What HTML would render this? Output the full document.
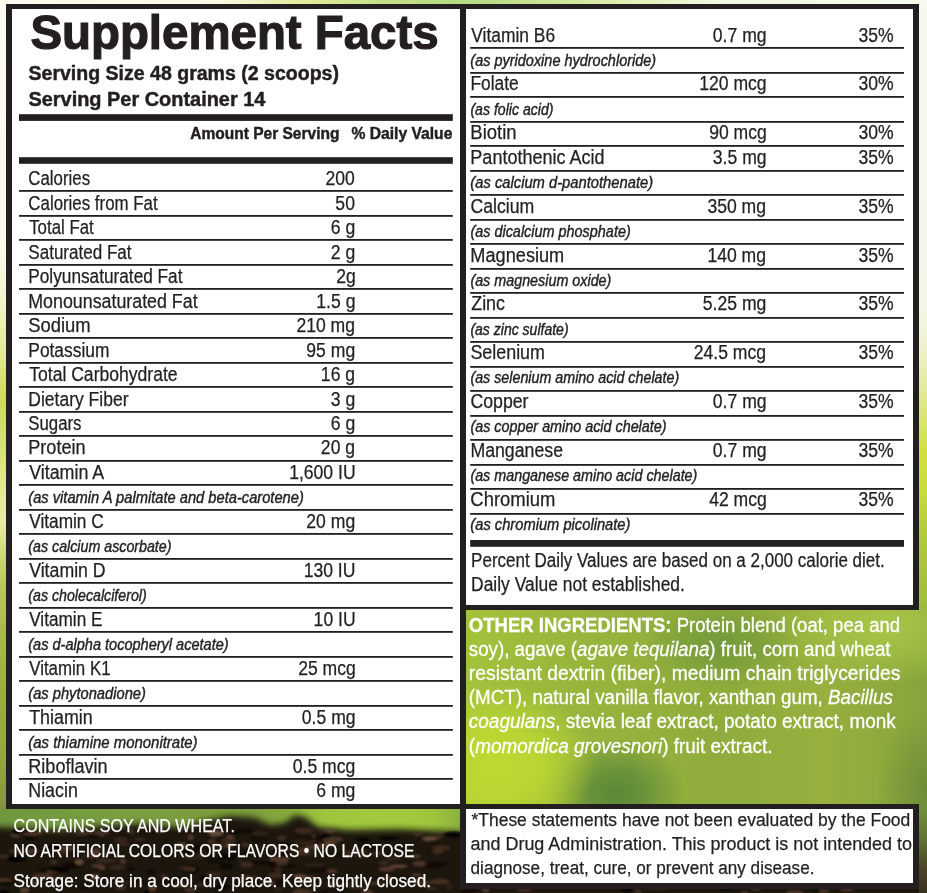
<!DOCTYPE html>
<html><head><meta charset="utf-8"><title>Supplement Facts</title>
<style>
html,body{margin:0;padding:0;}
body{width:927px;height:893px;overflow:hidden;position:relative;background:#f6f8e4;}
.bg{position:absolute;}
#bgbase{left:0;top:0;width:927px;height:893px;background:linear-gradient(to bottom,#fbfcf0 0px,#fafbec 240px,#f2f4cf 300px,#e3ea94 350px,#cddc52 400px,#cfe06a 432px,#dfe77e 470px,#eaeea4 520px,#d2dd7a 548px,#b9c855 585px,#a6b943 640px,#9aae38 700px,#93a83a 760px,#86993c 800px,#7a8d3a 815px,#4b3d2a 830px,#2a1f18 850px,#231a14 893px);}
#bgright{left:919px;top:0;width:8px;height:610px;background:linear-gradient(to bottom,#f4f8ef 0px,#f3f7ea 300px,#eef2cc 350px,#e0e88a 400px,#cfe040 450px,#c8dc3c 490px,#b0c83c 540px,#a0bc3e 610px);}
#bgright2{left:919px;top:800px;width:8px;height:93px;background:linear-gradient(to bottom,rgba(112,144,58,0) 0px,#70903a 10px,#5f7034 40px,#4a4229 70px,#3a3020 93px);}
#bgtop{left:0;top:0;width:927px;height:6px;background:linear-gradient(to right,#fbfcf0 0px,#f8f9e2 220px,#e2ec9c 300px,#c6e08a 380px,#b5db82 450px,#c2e08e 520px,#dfeeb0 620px,#f3f8e2 720px,#f6faee 927px);}
#bging{left:466px;top:605px;width:461px;height:205px;background:
 radial-gradient(ellipse 100px 80px at 30px 160px,#bdd931 0%,rgba(189,217,49,.85) 45%,rgba(189,217,49,0) 100%),
 radial-gradient(ellipse 70px 55px at 150px 188px,#5b8838 0%,rgba(91,136,56,.75) 40%,rgba(91,136,56,0) 100%),
 radial-gradient(ellipse 80px 45px at 255px 40px,#739a3a 0%,rgba(115,154,58,.6) 50%,rgba(115,154,58,0) 100%),
 radial-gradient(ellipse 50px 80px at 461px 185px,rgba(104,134,54,.8) 0%,rgba(104,134,54,0) 100%),
 radial-gradient(ellipse 110px 60px at 420px 20px,#a8c646 0%,rgba(168,198,70,.6) 50%,rgba(168,198,70,0) 100%),
 linear-gradient(to right,#a3c23b 0px,#97b43c 120px,#8fac3c 260px,#97b03e 360px,#86a43c 461px);}
#bgsoil{left:0;top:809px;width:927px;height:84px;background:
 radial-gradient(ellipse 90px 26px at 375px 8px,#a2ca3e 0%,rgba(162,202,62,.7) 55%,rgba(162,202,62,0) 100%),
 linear-gradient(to right,#6f983e 0px,#7a9e40 120px,#7c9c3c 250px,#92ba3c 330px,#9cc43c 420px,#8aae3c 460px,#6a7c34 540px,#5a6a30 927px);}
svg{position:absolute;left:0;top:0;}
</style></head>
<body>
<div class="bg" id="bgbase"></div>
<div class="bg" id="bgright"></div>
<div class="bg" id="bgtop"></div>
<div class="bg" id="bging"></div>
<div class="bg" id="bgsoil"></div>
<div class="bg" id="bgright2"></div>
<svg width="927" height="893" viewBox="0 0 927 893" font-family="'Liberation Sans', Arial, sans-serif" fill="#231f20">
<defs><filter id="sb" x="-5%" y="-20%" width="110%" height="140%"><feGaussianBlur stdDeviation="1.3"/></filter><filter id="sb2" x="-5%" y="-30%" width="110%" height="160%"><feGaussianBlur stdDeviation="3"/></filter><clipPath id="sc"><rect x="0" y="809" width="919" height="84"/></clipPath></defs><g clip-path="url(#sc)"><path d="M-20,930 L-20,827 L0,827 L20,828 L60,830 L100,826 L140,824 L180,827 L205,821 L230,816 L255,818 L270,825 L285,823 L295,815 L305,817 L318,827 L350,830 L400,829 L440,831 L470,833 L560,835 L700,837 L927,841 L950,841 L950,930 Z" fill="#1f1611" filter="url(#sb2)"/><g filter="url(#sb)"><ellipse cx="300.2" cy="839.5" rx="8.2" ry="1.3" fill="#5a3c2c" fill-opacity="0.65"/><ellipse cx="53.8" cy="862.0" rx="3.3" ry="2.1" fill="#5a3c2c" fill-opacity="0.60"/><ellipse cx="524.2" cy="889.7" rx="8.0" ry="2.4" fill="#4a3226" fill-opacity="0.73"/><ellipse cx="367.7" cy="891.5" rx="3.4" ry="2.9" fill="#4f372a" fill-opacity="0.67"/><ellipse cx="95.5" cy="866.0" rx="4.5" ry="1.4" fill="#5a3c2c" fill-opacity="0.73"/><ellipse cx="431.6" cy="888.2" rx="5.9" ry="1.7" fill="#3e2a20" fill-opacity="0.78"/><ellipse cx="226.3" cy="866.2" rx="7.2" ry="3.0" fill="#070403" fill-opacity="0.62"/><ellipse cx="387.6" cy="877.7" rx="4.2" ry="2.2" fill="#4a3226" fill-opacity="0.88"/><ellipse cx="72.0" cy="865.2" rx="9.3" ry="2.8" fill="#0e0806" fill-opacity="0.78"/><ellipse cx="422.9" cy="882.9" rx="10.6" ry="2.1" fill="#5a3c2c" fill-opacity="0.52"/><ellipse cx="920.6" cy="881.8" rx="5.3" ry="2.0" fill="#0e0806" fill-opacity="0.51"/><ellipse cx="428.0" cy="840.6" rx="3.9" ry="1.3" fill="#4f372a" fill-opacity="0.55"/><ellipse cx="229.5" cy="854.6" rx="10.0" ry="1.4" fill="#070403" fill-opacity="0.66"/><ellipse cx="257.6" cy="838.6" rx="6.4" ry="2.3" fill="#0e0806" fill-opacity="0.89"/><ellipse cx="213.9" cy="835.2" rx="4.2" ry="2.5" fill="#4a3226" fill-opacity="0.69"/><ellipse cx="3.8" cy="856.4" rx="6.0" ry="2.3" fill="#3e2a20" fill-opacity="0.78"/><ellipse cx="363.7" cy="855.1" rx="3.8" ry="2.5" fill="#4a3226" fill-opacity="0.58"/><ellipse cx="101.9" cy="867.8" rx="3.8" ry="2.3" fill="#5a3c2c" fill-opacity="0.88"/><ellipse cx="192.8" cy="853.7" rx="8.1" ry="3.1" fill="#0e0806" fill-opacity="0.69"/><ellipse cx="106.9" cy="860.7" rx="10.8" ry="2.2" fill="#4f372a" fill-opacity="0.53"/><ellipse cx="94.7" cy="851.6" rx="5.1" ry="2.9" fill="#3e2a20" fill-opacity="0.71"/><ellipse cx="190.2" cy="890.0" rx="5.9" ry="2.6" fill="#4a3226" fill-opacity="0.80"/><ellipse cx="276.3" cy="870.5" rx="3.7" ry="2.9" fill="#0e0806" fill-opacity="0.86"/><ellipse cx="329.7" cy="844.0" rx="7.3" ry="2.2" fill="#6b4d3a" fill-opacity="0.75"/><ellipse cx="180.9" cy="845.1" rx="6.2" ry="2.8" fill="#6b4d3a" fill-opacity="0.71"/><ellipse cx="329.6" cy="831.8" rx="3.2" ry="1.8" fill="#4f372a" fill-opacity="0.58"/><ellipse cx="324.0" cy="891.4" rx="3.6" ry="1.4" fill="#070403" fill-opacity="0.58"/><ellipse cx="189.5" cy="869.3" rx="10.2" ry="2.9" fill="#070403" fill-opacity="0.86"/><ellipse cx="318.9" cy="870.5" rx="9.7" ry="1.4" fill="#0e0806" fill-opacity="0.81"/><ellipse cx="165.5" cy="879.7" rx="5.7" ry="2.8" fill="#0e0806" fill-opacity="0.69"/><ellipse cx="147.3" cy="892.6" rx="3.2" ry="2.4" fill="#070403" fill-opacity="0.82"/><ellipse cx="135.5" cy="882.1" rx="10.8" ry="2.5" fill="#0e0806" fill-opacity="0.56"/><ellipse cx="95.3" cy="877.2" rx="4.1" ry="3.2" fill="#6b4d3a" fill-opacity="0.83"/><ellipse cx="195.6" cy="845.9" rx="5.3" ry="1.7" fill="#0e0806" fill-opacity="0.60"/><ellipse cx="388.4" cy="838.3" rx="10.3" ry="1.9" fill="#070403" fill-opacity="0.76"/><ellipse cx="121.2" cy="839.6" rx="7.1" ry="2.9" fill="#3e2a20" fill-opacity="0.74"/><ellipse cx="131.2" cy="869.0" rx="4.0" ry="1.3" fill="#070403" fill-opacity="0.81"/><ellipse cx="98.4" cy="865.3" rx="5.0" ry="1.8" fill="#5a3c2c" fill-opacity="0.70"/><ellipse cx="419.3" cy="863.6" rx="6.8" ry="3.1" fill="#4f372a" fill-opacity="0.87"/><ellipse cx="414.9" cy="856.2" rx="6.1" ry="1.8" fill="#6b4d3a" fill-opacity="0.67"/><ellipse cx="197.2" cy="849.1" rx="4.0" ry="2.8" fill="#0e0806" fill-opacity="0.56"/><ellipse cx="818.4" cy="891.0" rx="4.8" ry="3.1" fill="#0e0806" fill-opacity="0.85"/><ellipse cx="150.9" cy="872.1" rx="4.8" ry="2.6" fill="#0e0806" fill-opacity="0.64"/><ellipse cx="181.5" cy="850.1" rx="8.8" ry="1.2" fill="#070403" fill-opacity="0.68"/><ellipse cx="16.8" cy="850.9" rx="8.0" ry="2.2" fill="#5a3c2c" fill-opacity="0.55"/><ellipse cx="252.1" cy="887.1" rx="4.5" ry="2.7" fill="#0e0806" fill-opacity="0.84"/><ellipse cx="626.6" cy="889.6" rx="6.2" ry="2.3" fill="#070403" fill-opacity="0.78"/><ellipse cx="82.9" cy="833.6" rx="8.5" ry="2.1" fill="#5a3c2c" fill-opacity="0.61"/><ellipse cx="15.6" cy="835.6" rx="5.1" ry="2.4" fill="#6b4d3a" fill-opacity="0.53"/><ellipse cx="314.4" cy="864.8" rx="10.4" ry="1.7" fill="#3e2a20" fill-opacity="0.52"/><ellipse cx="657.7" cy="889.1" rx="10.8" ry="1.7" fill="#3e2a20" fill-opacity="0.58"/><ellipse cx="289.2" cy="849.2" rx="9.1" ry="1.8" fill="#3e2a20" fill-opacity="0.61"/><ellipse cx="745.0" cy="892.7" rx="3.3" ry="1.2" fill="#6b4d3a" fill-opacity="0.71"/><ellipse cx="227.7" cy="858.2" rx="8.3" ry="2.5" fill="#070403" fill-opacity="0.72"/><ellipse cx="823.8" cy="891.1" rx="5.5" ry="1.6" fill="#6b4d3a" fill-opacity="0.64"/><ellipse cx="322.2" cy="833.4" rx="4.0" ry="1.3" fill="#4f372a" fill-opacity="0.67"/><ellipse cx="51.4" cy="871.9" rx="6.0" ry="2.2" fill="#4f372a" fill-opacity="0.74"/><ellipse cx="171.8" cy="846.9" rx="3.0" ry="1.9" fill="#0e0806" fill-opacity="0.89"/><ellipse cx="330.6" cy="830.1" rx="6.1" ry="2.1" fill="#6b4d3a" fill-opacity="0.60"/><ellipse cx="277.8" cy="869.7" rx="3.7" ry="3.1" fill="#3e2a20" fill-opacity="0.76"/><ellipse cx="361.1" cy="850.5" rx="10.9" ry="1.5" fill="#3e2a20" fill-opacity="0.52"/><ellipse cx="28.9" cy="838.4" rx="5.9" ry="1.4" fill="#070403" fill-opacity="0.72"/><ellipse cx="3.1" cy="880.3" rx="9.0" ry="2.2" fill="#5a3c2c" fill-opacity="0.76"/><ellipse cx="61.2" cy="876.4" rx="5.0" ry="1.3" fill="#4f372a" fill-opacity="0.59"/><ellipse cx="43.3" cy="869.9" rx="4.6" ry="2.4" fill="#0e0806" fill-opacity="0.60"/><ellipse cx="56.2" cy="846.9" rx="8.4" ry="2.6" fill="#070403" fill-opacity="0.62"/><ellipse cx="432.3" cy="837.5" rx="10.1" ry="1.6" fill="#5a3c2c" fill-opacity="0.87"/><ellipse cx="16.2" cy="858.9" rx="9.6" ry="3.1" fill="#070403" fill-opacity="0.90"/><ellipse cx="358.6" cy="887.7" rx="10.4" ry="1.3" fill="#5a3c2c" fill-opacity="0.56"/><ellipse cx="485.8" cy="890.0" rx="4.1" ry="2.8" fill="#4f372a" fill-opacity="0.85"/><ellipse cx="23.0" cy="830.2" rx="6.9" ry="2.1" fill="#4f372a" fill-opacity="0.79"/><ellipse cx="385.8" cy="853.7" rx="4.0" ry="1.9" fill="#0e0806" fill-opacity="0.80"/><ellipse cx="345.0" cy="854.8" rx="11.0" ry="2.4" fill="#0e0806" fill-opacity="0.87"/><ellipse cx="260.2" cy="833.3" rx="8.3" ry="2.5" fill="#3e2a20" fill-opacity="0.60"/><ellipse cx="246.3" cy="862.2" rx="4.5" ry="1.9" fill="#0e0806" fill-opacity="0.85"/><ellipse cx="846.7" cy="889.3" rx="7.4" ry="2.6" fill="#4a3226" fill-opacity="0.87"/><ellipse cx="380.9" cy="868.7" rx="4.1" ry="2.9" fill="#070403" fill-opacity="0.52"/><ellipse cx="437.7" cy="851.7" rx="5.4" ry="2.7" fill="#4f372a" fill-opacity="0.66"/><ellipse cx="221.2" cy="860.4" rx="8.4" ry="1.4" fill="#3e2a20" fill-opacity="0.53"/><ellipse cx="308.5" cy="877.8" rx="6.4" ry="2.3" fill="#6b4d3a" fill-opacity="0.54"/><ellipse cx="317.0" cy="835.7" rx="4.9" ry="1.7" fill="#6b4d3a" fill-opacity="0.85"/><ellipse cx="383.7" cy="863.0" rx="6.0" ry="1.9" fill="#4a3226" fill-opacity="0.70"/><ellipse cx="85.8" cy="886.5" rx="6.1" ry="2.5" fill="#0e0806" fill-opacity="0.88"/><ellipse cx="20.2" cy="832.0" rx="8.7" ry="3.0" fill="#070403" fill-opacity="0.89"/><ellipse cx="454.1" cy="834.6" rx="10.4" ry="3.1" fill="#070403" fill-opacity="0.89"/><ellipse cx="230.3" cy="836.9" rx="4.2" ry="2.2" fill="#5a3c2c" fill-opacity="0.88"/><ellipse cx="281.6" cy="838.1" rx="5.0" ry="2.5" fill="#5a3c2c" fill-opacity="0.54"/><ellipse cx="278.4" cy="889.4" rx="4.5" ry="1.7" fill="#4a3226" fill-opacity="0.50"/><ellipse cx="279.5" cy="859.0" rx="10.7" ry="2.5" fill="#6b4d3a" fill-opacity="0.69"/><ellipse cx="217.6" cy="845.6" rx="10.7" ry="2.6" fill="#4f372a" fill-opacity="0.52"/><ellipse cx="179.9" cy="885.7" rx="8.2" ry="1.4" fill="#6b4d3a" fill-opacity="0.77"/><ellipse cx="31.6" cy="851.3" rx="6.4" ry="2.6" fill="#6b4d3a" fill-opacity="0.50"/><ellipse cx="270.8" cy="883.2" rx="3.5" ry="2.2" fill="#6b4d3a" fill-opacity="0.62"/><ellipse cx="205.3" cy="877.9" rx="5.4" ry="3.1" fill="#070403" fill-opacity="0.74"/><ellipse cx="50.4" cy="831.5" rx="7.8" ry="2.0" fill="#4a3226" fill-opacity="0.57"/><ellipse cx="416.8" cy="874.9" rx="5.5" ry="1.4" fill="#5a3c2c" fill-opacity="0.87"/><ellipse cx="305.2" cy="841.7" rx="10.5" ry="2.7" fill="#4a3226" fill-opacity="0.62"/><ellipse cx="101.0" cy="834.9" rx="3.6" ry="2.0" fill="#5a3c2c" fill-opacity="0.72"/><ellipse cx="299.7" cy="876.5" rx="6.8" ry="2.5" fill="#6b4d3a" fill-opacity="0.82"/><ellipse cx="32.3" cy="833.9" rx="10.4" ry="1.7" fill="#5a3c2c" fill-opacity="0.86"/><ellipse cx="314.3" cy="847.2" rx="10.7" ry="2.4" fill="#4f372a" fill-opacity="0.80"/><ellipse cx="275.7" cy="875.5" rx="7.8" ry="2.8" fill="#5a3c2c" fill-opacity="0.51"/><ellipse cx="216.8" cy="859.9" rx="10.7" ry="3.1" fill="#0e0806" fill-opacity="0.82"/><ellipse cx="123.0" cy="861.3" rx="3.1" ry="3.1" fill="#4f372a" fill-opacity="0.83"/><ellipse cx="303.9" cy="850.1" rx="5.9" ry="2.8" fill="#5a3c2c" fill-opacity="0.70"/><ellipse cx="363.1" cy="840.1" rx="6.3" ry="2.5" fill="#070403" fill-opacity="0.72"/><ellipse cx="302.0" cy="891.8" rx="10.1" ry="3.2" fill="#4f372a" fill-opacity="0.75"/><ellipse cx="193.1" cy="856.5" rx="10.9" ry="3.1" fill="#3e2a20" fill-opacity="0.59"/><ellipse cx="386.4" cy="869.1" rx="8.4" ry="2.7" fill="#5a3c2c" fill-opacity="0.81"/><ellipse cx="272.5" cy="847.6" rx="5.1" ry="1.7" fill="#4f372a" fill-opacity="0.58"/><ellipse cx="229.4" cy="845.5" rx="4.2" ry="3.0" fill="#6b4d3a" fill-opacity="0.63"/><ellipse cx="367.2" cy="892.5" rx="7.1" ry="1.7" fill="#5a3c2c" fill-opacity="0.76"/><ellipse cx="440.1" cy="881.6" rx="9.7" ry="3.0" fill="#4a3226" fill-opacity="0.85"/><ellipse cx="215.9" cy="833.2" rx="7.8" ry="2.9" fill="#6b4d3a" fill-opacity="0.87"/><ellipse cx="345.1" cy="884.6" rx="6.6" ry="1.7" fill="#4a3226" fill-opacity="0.54"/><ellipse cx="201.8" cy="853.2" rx="4.1" ry="1.6" fill="#4f372a" fill-opacity="0.52"/><ellipse cx="379.1" cy="853.4" rx="8.0" ry="1.4" fill="#4a3226" fill-opacity="0.82"/><ellipse cx="94.0" cy="854.9" rx="7.4" ry="2.5" fill="#5a3c2c" fill-opacity="0.76"/><ellipse cx="368.7" cy="847.1" rx="10.9" ry="2.5" fill="#0e0806" fill-opacity="0.88"/><ellipse cx="289.6" cy="865.7" rx="5.9" ry="2.0" fill="#0e0806" fill-opacity="0.76"/><ellipse cx="362.2" cy="855.5" rx="10.5" ry="2.1" fill="#3e2a20" fill-opacity="0.67"/><ellipse cx="150.7" cy="830.9" rx="7.4" ry="2.5" fill="#0e0806" fill-opacity="0.54"/><ellipse cx="262.6" cy="862.8" rx="10.4" ry="1.4" fill="#070403" fill-opacity="0.80"/><ellipse cx="279.6" cy="882.7" rx="3.3" ry="3.0" fill="#0e0806" fill-opacity="0.52"/><ellipse cx="375.0" cy="883.3" rx="9.6" ry="1.6" fill="#6b4d3a" fill-opacity="0.52"/><ellipse cx="333.0" cy="839.4" rx="10.8" ry="2.8" fill="#6b4d3a" fill-opacity="0.52"/><ellipse cx="35.3" cy="882.8" rx="3.9" ry="2.4" fill="#4f372a" fill-opacity="0.76"/><ellipse cx="285.7" cy="845.7" rx="6.1" ry="1.9" fill="#070403" fill-opacity="0.57"/><ellipse cx="3.3" cy="892.1" rx="6.7" ry="2.1" fill="#070403" fill-opacity="0.83"/><ellipse cx="62.2" cy="852.6" rx="5.9" ry="2.8" fill="#4a3226" fill-opacity="0.52"/><ellipse cx="120.8" cy="888.1" rx="5.5" ry="2.6" fill="#5a3c2c" fill-opacity="0.52"/><ellipse cx="794.5" cy="892.8" rx="8.9" ry="2.8" fill="#6b4d3a" fill-opacity="0.55"/><ellipse cx="205.0" cy="882.5" rx="7.9" ry="1.7" fill="#0e0806" fill-opacity="0.86"/><ellipse cx="254.9" cy="881.4" rx="4.1" ry="2.2" fill="#070403" fill-opacity="0.58"/><ellipse cx="243.7" cy="861.9" rx="5.6" ry="1.3" fill="#3e2a20" fill-opacity="0.66"/><ellipse cx="303.9" cy="853.7" rx="9.3" ry="1.7" fill="#4a3226" fill-opacity="0.75"/><ellipse cx="333.5" cy="885.0" rx="7.4" ry="2.4" fill="#5a3c2c" fill-opacity="0.60"/><ellipse cx="348.3" cy="853.2" rx="4.2" ry="1.9" fill="#5a3c2c" fill-opacity="0.68"/><ellipse cx="163.9" cy="876.8" rx="3.4" ry="2.8" fill="#4f372a" fill-opacity="0.62"/><ellipse cx="205.5" cy="848.3" rx="8.0" ry="2.0" fill="#0e0806" fill-opacity="0.86"/><ellipse cx="122.4" cy="844.3" rx="8.2" ry="1.2" fill="#4a3226" fill-opacity="0.73"/><ellipse cx="281.6" cy="863.0" rx="7.3" ry="2.0" fill="#4f372a" fill-opacity="0.74"/><ellipse cx="189.3" cy="869.3" rx="6.8" ry="1.5" fill="#6b4d3a" fill-opacity="0.78"/><ellipse cx="417.9" cy="834.0" rx="4.2" ry="2.5" fill="#4f372a" fill-opacity="0.66"/><ellipse cx="245.0" cy="830.7" rx="8.2" ry="2.3" fill="#0e0806" fill-opacity="0.74"/><ellipse cx="153.0" cy="830.0" rx="3.5" ry="1.3" fill="#3e2a20" fill-opacity="0.60"/><ellipse cx="54.1" cy="879.1" rx="3.1" ry="2.3" fill="#6b4d3a" fill-opacity="0.56"/><ellipse cx="185.0" cy="868.3" rx="7.1" ry="2.5" fill="#3e2a20" fill-opacity="0.70"/><ellipse cx="59.1" cy="869.4" rx="11.0" ry="2.6" fill="#070403" fill-opacity="0.79"/><ellipse cx="5.9" cy="883.2" rx="9.0" ry="2.1" fill="#070403" fill-opacity="0.57"/><ellipse cx="923.9" cy="846.5" rx="8.2" ry="1.4" fill="#4f372a" fill-opacity="0.78"/><ellipse cx="246.6" cy="864.9" rx="6.5" ry="2.8" fill="#4f372a" fill-opacity="0.62"/><ellipse cx="79.2" cy="862.0" rx="4.4" ry="3.0" fill="#6b4d3a" fill-opacity="0.88"/><ellipse cx="221.7" cy="887.2" rx="8.0" ry="2.6" fill="#070403" fill-opacity="0.69"/><ellipse cx="24.6" cy="890.2" rx="4.9" ry="3.0" fill="#6b4d3a" fill-opacity="0.66"/><ellipse cx="159.0" cy="832.1" rx="3.9" ry="2.4" fill="#3e2a20" fill-opacity="0.64"/><ellipse cx="131.5" cy="831.8" rx="3.3" ry="2.6" fill="#4a3226" fill-opacity="0.78"/><ellipse cx="190.7" cy="837.1" rx="3.3" ry="2.9" fill="#5a3c2c" fill-opacity="0.83"/><ellipse cx="92.6" cy="836.2" rx="9.1" ry="1.6" fill="#0e0806" fill-opacity="0.63"/><ellipse cx="242.1" cy="852.1" rx="10.4" ry="1.3" fill="#0e0806" fill-opacity="0.86"/><ellipse cx="441.3" cy="848.1" rx="9.0" ry="2.8" fill="#4a3226" fill-opacity="0.67"/><ellipse cx="200.8" cy="884.3" rx="3.7" ry="2.8" fill="#3e2a20" fill-opacity="0.67"/><ellipse cx="322.4" cy="836.0" rx="8.6" ry="2.9" fill="#070403" fill-opacity="0.74"/><ellipse cx="755.7" cy="889.1" rx="4.9" ry="1.5" fill="#5a3c2c" fill-opacity="0.70"/><ellipse cx="96.9" cy="850.6" rx="3.8" ry="3.1" fill="#5a3c2c" fill-opacity="0.67"/><ellipse cx="281.0" cy="857.0" rx="7.4" ry="1.5" fill="#6b4d3a" fill-opacity="0.88"/><ellipse cx="117.6" cy="867.4" rx="8.5" ry="2.4" fill="#4a3226" fill-opacity="0.64"/><ellipse cx="302.8" cy="839.8" rx="9.7" ry="2.5" fill="#0e0806" fill-opacity="0.57"/><ellipse cx="406.8" cy="878.7" rx="7.6" ry="1.5" fill="#070403" fill-opacity="0.76"/><ellipse cx="248.0" cy="877.5" rx="9.6" ry="2.4" fill="#3e2a20" fill-opacity="0.89"/><ellipse cx="323.2" cy="844.9" rx="10.6" ry="1.7" fill="#5a3c2c" fill-opacity="0.57"/><ellipse cx="139.9" cy="839.3" rx="5.4" ry="1.8" fill="#4f372a" fill-opacity="0.58"/><ellipse cx="191.4" cy="854.5" rx="3.3" ry="2.0" fill="#0e0806" fill-opacity="0.78"/><ellipse cx="429.5" cy="838.9" rx="7.8" ry="2.0" fill="#6b4d3a" fill-opacity="0.86"/><ellipse cx="398.6" cy="866.2" rx="9.0" ry="2.0" fill="#6b4d3a" fill-opacity="0.77"/><ellipse cx="211.9" cy="841.4" rx="4.0" ry="2.1" fill="#4f372a" fill-opacity="0.75"/><ellipse cx="90.7" cy="856.4" rx="9.3" ry="2.6" fill="#3e2a20" fill-opacity="0.60"/><ellipse cx="392.7" cy="858.7" rx="8.0" ry="2.0" fill="#3e2a20" fill-opacity="0.86"/><ellipse cx="304.1" cy="830.7" rx="9.7" ry="3.0" fill="#5a3c2c" fill-opacity="0.52"/><ellipse cx="724.7" cy="889.3" rx="7.2" ry="1.4" fill="#070403" fill-opacity="0.72"/><ellipse cx="52.5" cy="847.3" rx="6.2" ry="1.2" fill="#0e0806" fill-opacity="0.87"/><ellipse cx="281.3" cy="855.2" rx="10.6" ry="3.1" fill="#0e0806" fill-opacity="0.68"/><ellipse cx="152.5" cy="888.6" rx="3.6" ry="2.8" fill="#6b4d3a" fill-opacity="0.69"/><ellipse cx="272.9" cy="864.5" rx="4.0" ry="2.9" fill="#0e0806" fill-opacity="0.81"/><ellipse cx="213.6" cy="874.4" rx="8.5" ry="3.2" fill="#3e2a20" fill-opacity="0.69"/><ellipse cx="331.8" cy="871.2" rx="5.6" ry="2.2" fill="#5a3c2c" fill-opacity="0.76"/><ellipse cx="336.0" cy="888.5" rx="9.8" ry="1.3" fill="#0e0806" fill-opacity="0.81"/><ellipse cx="130.2" cy="882.4" rx="8.1" ry="1.2" fill="#4a3226" fill-opacity="0.58"/><ellipse cx="66.7" cy="848.5" rx="7.9" ry="2.4" fill="#6b4d3a" fill-opacity="0.57"/><ellipse cx="419.0" cy="879.4" rx="4.7" ry="2.0" fill="#3e2a20" fill-opacity="0.74"/><ellipse cx="637.8" cy="891.6" rx="3.7" ry="3.0" fill="#4f372a" fill-opacity="0.58"/><ellipse cx="245.2" cy="844.8" rx="4.1" ry="2.2" fill="#4a3226" fill-opacity="0.69"/><ellipse cx="228.6" cy="840.4" rx="7.8" ry="2.7" fill="#3e2a20" fill-opacity="0.84"/><ellipse cx="433.8" cy="865.4" rx="8.3" ry="2.9" fill="#0e0806" fill-opacity="0.67"/><ellipse cx="927.0" cy="872.6" rx="4.4" ry="1.9" fill="#4a3226" fill-opacity="0.51"/><ellipse cx="42.5" cy="876.4" rx="11.0" ry="2.8" fill="#5a3c2c" fill-opacity="0.70"/><ellipse cx="449.3" cy="886.5" rx="3.3" ry="2.6" fill="#3e2a20" fill-opacity="0.64"/><ellipse cx="439.9" cy="863.1" rx="9.2" ry="1.6" fill="#0e0806" fill-opacity="0.64"/><ellipse cx="233.2" cy="833.3" rx="5.3" ry="1.9" fill="#070403" fill-opacity="0.66"/><ellipse cx="469.5" cy="891.4" rx="8.2" ry="2.8" fill="#0e0806" fill-opacity="0.58"/><ellipse cx="923.8" cy="855.1" rx="7.4" ry="2.0" fill="#4a3226" fill-opacity="0.66"/><ellipse cx="100.6" cy="832.9" rx="9.6" ry="2.2" fill="#4a3226" fill-opacity="0.82"/></g></g>
<rect x="6" y="4" width="460" height="805" fill="#231f20"/>
<rect x="460" y="4" width="459" height="606" fill="#231f20"/>
<rect x="460" y="610" width="6" height="194" fill="#231f20"/>
<rect x="460" y="804" width="459" height="85" fill="#231f20"/>
<rect x="12" y="9" width="448" height="795" fill="#fff"/>
<rect x="466" y="9" width="447" height="596" fill="#fff"/>
<rect x="466" y="809" width="447" height="74" fill="#fff"/>
<rect x="19" y="114.2" width="433.8" height="6.7" fill="#231f20"/>
<rect x="19" y="157.2" width="433.8" height="6.6" fill="#231f20"/>
<rect x="19" y="190" width="433.8" height="1.8" fill="#231f20"/>
<rect x="19" y="215" width="433.8" height="1.8" fill="#231f20"/>
<rect x="19" y="239" width="433.8" height="1.8" fill="#231f20"/>
<rect x="19" y="264" width="433.8" height="1.8" fill="#231f20"/>
<rect x="19" y="288" width="433.8" height="1.8" fill="#231f20"/>
<rect x="19" y="313" width="433.8" height="1.8" fill="#231f20"/>
<rect x="19" y="337" width="433.8" height="1.8" fill="#231f20"/>
<rect x="19" y="362" width="433.8" height="1.8" fill="#231f20"/>
<rect x="19" y="386" width="433.8" height="1.8" fill="#231f20"/>
<rect x="19" y="411" width="433.8" height="1.8" fill="#231f20"/>
<rect x="19" y="435" width="433.8" height="1.8" fill="#231f20"/>
<rect x="19" y="460" width="433.8" height="1.8" fill="#231f20"/>
<rect x="19" y="484" width="433.8" height="1.8" fill="#231f20"/>
<rect x="19" y="509" width="433.8" height="1.8" fill="#231f20"/>
<rect x="19" y="533" width="433.8" height="1.8" fill="#231f20"/>
<rect x="19" y="558" width="433.8" height="1.8" fill="#231f20"/>
<rect x="19" y="582" width="433.8" height="1.8" fill="#231f20"/>
<rect x="19" y="607" width="433.8" height="1.8" fill="#231f20"/>
<rect x="19" y="631" width="433.8" height="1.8" fill="#231f20"/>
<rect x="19" y="656" width="433.8" height="1.8" fill="#231f20"/>
<rect x="19" y="680" width="433.8" height="1.8" fill="#231f20"/>
<rect x="19" y="705" width="433.8" height="1.8" fill="#231f20"/>
<rect x="19" y="729" width="433.8" height="1.8" fill="#231f20"/>
<rect x="19" y="754" width="433.8" height="1.8" fill="#231f20"/>
<rect x="19" y="778" width="433.8" height="1.8" fill="#231f20"/>
<rect x="470.2" y="47" width="433.8" height="1.8" fill="#231f20"/>
<rect x="470.2" y="72" width="433.8" height="1.8" fill="#231f20"/>
<rect x="470.2" y="96" width="433.8" height="1.8" fill="#231f20"/>
<rect x="470.2" y="121" width="433.8" height="1.8" fill="#231f20"/>
<rect x="470.2" y="145" width="433.8" height="1.8" fill="#231f20"/>
<rect x="470.2" y="170" width="433.8" height="1.8" fill="#231f20"/>
<rect x="470.2" y="194" width="433.8" height="1.8" fill="#231f20"/>
<rect x="470.2" y="219" width="433.8" height="1.8" fill="#231f20"/>
<rect x="470.2" y="243" width="433.8" height="1.8" fill="#231f20"/>
<rect x="470.2" y="268" width="433.8" height="1.8" fill="#231f20"/>
<rect x="470.2" y="292" width="433.8" height="1.8" fill="#231f20"/>
<rect x="470.2" y="317" width="433.8" height="1.8" fill="#231f20"/>
<rect x="470.2" y="341" width="433.8" height="1.8" fill="#231f20"/>
<rect x="470.2" y="366" width="433.8" height="1.8" fill="#231f20"/>
<rect x="470.2" y="390" width="433.8" height="1.8" fill="#231f20"/>
<rect x="470.2" y="415" width="433.8" height="1.8" fill="#231f20"/>
<rect x="470.2" y="439" width="433.8" height="1.8" fill="#231f20"/>
<rect x="470.2" y="464" width="433.8" height="1.8" fill="#231f20"/>
<rect x="470.2" y="488" width="433.8" height="1.8" fill="#231f20"/>
<rect x="470.2" y="513" width="433.8" height="1.8" fill="#231f20"/>
<rect x="470.2" y="540" width="433.8" height="6.8" fill="#231f20"/>
<text x="30.41" y="48.50" font-size="48" textLength="408.19" lengthAdjust="spacingAndGlyphs" stroke="#231f20" stroke-width="1.2"><tspan font-weight="bold">Supplement Facts</tspan></text>
<text x="28.50" y="79.50" font-size="19.5" textLength="310.46" lengthAdjust="spacingAndGlyphs" stroke="#231f20" stroke-width="0.45"><tspan font-weight="bold">Serving Size 48 grams (2 scoops)</tspan></text>
<text x="28.48" y="105.70" font-size="19.5" textLength="236.94" lengthAdjust="spacingAndGlyphs" stroke="#231f20" stroke-width="0.45"><tspan font-weight="bold">Serving Per Container 14</tspan></text>
<text x="190.20" y="138.90" font-size="16.2" textLength="149.28" lengthAdjust="spacingAndGlyphs" stroke="#231f20" stroke-width="0.45"><tspan font-weight="bold">Amount Per Serving</tspan></text>
<text x="351.40" y="138.90" font-size="16.2" textLength="100.96" lengthAdjust="spacingAndGlyphs" stroke="#231f20" stroke-width="0.45"><tspan font-weight="bold">% Daily Value</tspan></text>
<text x="28.33" y="185.30" font-size="19.4" textLength="61.78" lengthAdjust="spacingAndGlyphs" stroke="#231f20" stroke-width="0.25">Calories</text>
<text x="325.39" y="185.30" font-size="19.4" textLength="29.34" lengthAdjust="spacingAndGlyphs" stroke="#231f20" stroke-width="0.25">200</text>
<text x="28.33" y="209.77" font-size="19.4" textLength="129.31" lengthAdjust="spacingAndGlyphs" stroke="#231f20" stroke-width="0.25">Calories from Fat</text>
<text x="335.36" y="209.77" font-size="19.4" textLength="19.56" lengthAdjust="spacingAndGlyphs" stroke="#231f20" stroke-width="0.25">50</text>
<text x="29.20" y="234.24" font-size="19.4" textLength="64.53" lengthAdjust="spacingAndGlyphs" stroke="#231f20" stroke-width="0.25">Total Fat</text>
<text x="330.83" y="234.24" font-size="19.4" textLength="24.45" lengthAdjust="spacingAndGlyphs" stroke="#231f20" stroke-width="0.25">6 g</text>
<text x="28.32" y="258.71" font-size="19.4" textLength="103.22" lengthAdjust="spacingAndGlyphs" stroke="#231f20" stroke-width="0.25">Saturated Fat</text>
<text x="330.83" y="258.71" font-size="19.4" textLength="24.45" lengthAdjust="spacingAndGlyphs" stroke="#231f20" stroke-width="0.25">2 g</text>
<text x="28.31" y="283.18" font-size="19.4" textLength="154.19" lengthAdjust="spacingAndGlyphs" stroke="#231f20" stroke-width="0.25">Polyunsaturated Fat</text>
<text x="336.27" y="283.18" font-size="19.4" textLength="19.56" lengthAdjust="spacingAndGlyphs" stroke="#231f20" stroke-width="0.25">2g</text>
<text x="28.28" y="307.65" font-size="19.4" textLength="169.32" lengthAdjust="spacingAndGlyphs" stroke="#231f20" stroke-width="0.25">Monounsaturated Fat</text>
<text x="316.32" y="307.65" font-size="19.4" textLength="39.11" lengthAdjust="spacingAndGlyphs" stroke="#231f20" stroke-width="0.25">1.5 g</text>
<text x="28.25" y="332.12" font-size="19.4" textLength="62.41" lengthAdjust="spacingAndGlyphs" stroke="#231f20" stroke-width="0.25">Sodium</text>
<text x="296.38" y="332.12" font-size="19.4" textLength="58.64" lengthAdjust="spacingAndGlyphs" stroke="#231f20" stroke-width="0.25">210 mg</text>
<text x="28.30" y="356.59" font-size="19.4" textLength="81.07" lengthAdjust="spacingAndGlyphs" stroke="#231f20" stroke-width="0.25">Potassium</text>
<text x="306.35" y="356.59" font-size="19.4" textLength="48.87" lengthAdjust="spacingAndGlyphs" stroke="#231f20" stroke-width="0.25">95 mg</text>
<text x="29.20" y="381.06" font-size="19.4" textLength="148.46" lengthAdjust="spacingAndGlyphs" stroke="#231f20" stroke-width="0.25">Total Carbohydrate</text>
<text x="320.86" y="381.06" font-size="19.4" textLength="34.22" lengthAdjust="spacingAndGlyphs" stroke="#231f20" stroke-width="0.25">16 g</text>
<text x="28.30" y="405.53" font-size="19.4" textLength="100.20" lengthAdjust="spacingAndGlyphs" stroke="#231f20" stroke-width="0.25">Dietary Fiber</text>
<text x="330.83" y="405.53" font-size="19.4" textLength="24.45" lengthAdjust="spacingAndGlyphs" stroke="#231f20" stroke-width="0.25">3 g</text>
<text x="28.34" y="430.00" font-size="19.4" textLength="53.16" lengthAdjust="spacingAndGlyphs" stroke="#231f20" stroke-width="0.25">Sugars</text>
<text x="330.83" y="430.00" font-size="19.4" textLength="24.45" lengthAdjust="spacingAndGlyphs" stroke="#231f20" stroke-width="0.25">6 g</text>
<text x="28.27" y="454.47" font-size="19.4" textLength="57.39" lengthAdjust="spacingAndGlyphs" stroke="#231f20" stroke-width="0.25">Protein</text>
<text x="320.86" y="454.47" font-size="19.4" textLength="34.22" lengthAdjust="spacingAndGlyphs" stroke="#231f20" stroke-width="0.25">20 g</text>
<text x="29.20" y="478.94" font-size="19.4" textLength="75.02" lengthAdjust="spacingAndGlyphs" stroke="#231f20" stroke-width="0.25">Vitamin A</text>
<text x="289.13" y="478.94" font-size="19.4" textLength="66.46" lengthAdjust="spacingAndGlyphs" stroke="#231f20" stroke-width="0.25">1,600 IU</text>
<text x="28.26" y="503.01" font-size="15.6" textLength="275.57" lengthAdjust="spacingAndGlyphs" stroke="#231f20" stroke-width="0.4"><tspan font-style="italic">(as vitamin A palmitate and beta-carotene)</tspan></text>
<text x="29.20" y="527.88" font-size="19.4" textLength="74.53" lengthAdjust="spacingAndGlyphs" stroke="#231f20" stroke-width="0.25">Vitamin C</text>
<text x="306.35" y="527.88" font-size="19.4" textLength="48.87" lengthAdjust="spacingAndGlyphs" stroke="#231f20" stroke-width="0.25">20 mg</text>
<text x="28.29" y="551.95" font-size="15.6" textLength="143.20" lengthAdjust="spacingAndGlyphs" stroke="#231f20" stroke-width="0.4"><tspan font-style="italic">(as calcium ascorbate)</tspan></text>
<text x="29.20" y="576.82" font-size="19.4" textLength="76.44" lengthAdjust="spacingAndGlyphs" stroke="#231f20" stroke-width="0.25">Vitamin D</text>
<text x="303.63" y="576.82" font-size="19.4" textLength="51.80" lengthAdjust="spacingAndGlyphs" stroke="#231f20" stroke-width="0.25">130 IU</text>
<text x="28.29" y="600.89" font-size="15.6" textLength="118.42" lengthAdjust="spacingAndGlyphs" stroke="#231f20" stroke-width="0.4"><tspan font-style="italic">(as cholecalciferol)</tspan></text>
<text x="29.20" y="625.76" font-size="19.4" textLength="73.27" lengthAdjust="spacingAndGlyphs" stroke="#231f20" stroke-width="0.25">Vitamin E</text>
<text x="313.61" y="625.76" font-size="19.4" textLength="42.03" lengthAdjust="spacingAndGlyphs" stroke="#231f20" stroke-width="0.25">10 IU</text>
<text x="28.27" y="649.83" font-size="15.6" textLength="200.35" lengthAdjust="spacingAndGlyphs" stroke="#231f20" stroke-width="0.4"><tspan font-style="italic">(as d-alpha tocopheryl acetate)</tspan></text>
<text x="29.20" y="674.70" font-size="19.4" textLength="81.37" lengthAdjust="spacingAndGlyphs" stroke="#231f20" stroke-width="0.25">Vitamin K1</text>
<text x="298.19" y="674.70" font-size="19.4" textLength="57.65" lengthAdjust="spacingAndGlyphs" stroke="#231f20" stroke-width="0.25">25 mcg</text>
<text x="28.26" y="698.77" font-size="15.6" textLength="117.64" lengthAdjust="spacingAndGlyphs" stroke="#231f20" stroke-width="0.4"><tspan font-style="italic">(as phytonadione)</tspan></text>
<text x="29.20" y="723.64" font-size="19.4" textLength="63.59" lengthAdjust="spacingAndGlyphs" stroke="#231f20" stroke-width="0.25">Thiamin</text>
<text x="301.82" y="723.64" font-size="19.4" textLength="53.74" lengthAdjust="spacingAndGlyphs" stroke="#231f20" stroke-width="0.25">0.5 mg</text>
<text x="28.24" y="747.71" font-size="15.6" textLength="169.34" lengthAdjust="spacingAndGlyphs" stroke="#231f20" stroke-width="0.4"><tspan font-style="italic">(as thiamine mononitrate)</tspan></text>
<text x="28.27" y="772.58" font-size="19.4" textLength="79.41" lengthAdjust="spacingAndGlyphs" stroke="#231f20" stroke-width="0.25">Riboflavin</text>
<text x="292.75" y="772.58" font-size="19.4" textLength="62.54" lengthAdjust="spacingAndGlyphs" stroke="#231f20" stroke-width="0.25">0.5 mcg</text>
<text x="28.28" y="797.05" font-size="19.4" textLength="49.54" lengthAdjust="spacingAndGlyphs" stroke="#231f20" stroke-width="0.25">Niacin</text>
<text x="316.32" y="797.05" font-size="19.4" textLength="39.08" lengthAdjust="spacingAndGlyphs" stroke="#231f20" stroke-width="0.25">6 mg</text>
<text x="471.30" y="41.60" font-size="19.4" textLength="83.88" lengthAdjust="spacingAndGlyphs" stroke="#231f20" stroke-width="0.25">Vitamin B6</text>
<text x="712.82" y="41.60" font-size="19.4" textLength="53.74" lengthAdjust="spacingAndGlyphs" stroke="#231f20" stroke-width="0.25">0.7 mg</text>
<text x="858.45" y="41.60" font-size="19.4" textLength="35.19" lengthAdjust="spacingAndGlyphs" stroke="#231f20" stroke-width="0.25">35%</text>
<text x="470.37" y="65.74" font-size="15.6" textLength="185.76" lengthAdjust="spacingAndGlyphs" stroke="#231f20" stroke-width="0.4"><tspan font-style="italic">(as pyridoxine hydrochloride)</tspan></text>
<text x="470.41" y="90.48" font-size="19.4" textLength="48.20" lengthAdjust="spacingAndGlyphs" stroke="#231f20" stroke-width="0.25">Folate</text>
<text x="699.22" y="90.48" font-size="19.4" textLength="67.42" lengthAdjust="spacingAndGlyphs" stroke="#231f20" stroke-width="0.25">120 mcg</text>
<text x="858.45" y="90.48" font-size="19.4" textLength="35.19" lengthAdjust="spacingAndGlyphs" stroke="#231f20" stroke-width="0.25">30%</text>
<text x="470.40" y="114.62" font-size="15.6" textLength="83.08" lengthAdjust="spacingAndGlyphs" stroke="#231f20" stroke-width="0.4"><tspan font-style="italic">(as folic acid)</tspan></text>
<text x="470.35" y="139.36" font-size="19.4" textLength="46.30" lengthAdjust="spacingAndGlyphs" stroke="#231f20" stroke-width="0.25">Biotin</text>
<text x="709.19" y="139.36" font-size="19.4" textLength="57.65" lengthAdjust="spacingAndGlyphs" stroke="#231f20" stroke-width="0.25">90 mcg</text>
<text x="858.45" y="139.36" font-size="19.4" textLength="35.19" lengthAdjust="spacingAndGlyphs" stroke="#231f20" stroke-width="0.25">30%</text>
<text x="470.37" y="163.80" font-size="19.4" textLength="134.19" lengthAdjust="spacingAndGlyphs" stroke="#231f20" stroke-width="0.25">Pantothenic Acid</text>
<text x="712.82" y="163.80" font-size="19.4" textLength="53.74" lengthAdjust="spacingAndGlyphs" stroke="#231f20" stroke-width="0.25">3.5 mg</text>
<text x="858.45" y="163.80" font-size="19.4" textLength="35.19" lengthAdjust="spacingAndGlyphs" stroke="#231f20" stroke-width="0.25">35%</text>
<text x="470.35" y="187.94" font-size="15.6" textLength="182.77" lengthAdjust="spacingAndGlyphs" stroke="#231f20" stroke-width="0.4"><tspan font-style="italic">(as calcium d-pantothenate)</tspan></text>
<text x="470.39" y="212.68" font-size="19.4" textLength="63.87" lengthAdjust="spacingAndGlyphs" stroke="#231f20" stroke-width="0.25">Calcium</text>
<text x="707.38" y="212.68" font-size="19.4" textLength="58.64" lengthAdjust="spacingAndGlyphs" stroke="#231f20" stroke-width="0.25">350 mg</text>
<text x="858.45" y="212.68" font-size="19.4" textLength="35.19" lengthAdjust="spacingAndGlyphs" stroke="#231f20" stroke-width="0.25">35%</text>
<text x="470.38" y="236.82" font-size="15.6" textLength="160.36" lengthAdjust="spacingAndGlyphs" stroke="#231f20" stroke-width="0.4"><tspan font-style="italic">(as dicalcium phosphate)</tspan></text>
<text x="470.36" y="261.56" font-size="19.4" textLength="93.89" lengthAdjust="spacingAndGlyphs" stroke="#231f20" stroke-width="0.25">Magnesium</text>
<text x="707.38" y="261.56" font-size="19.4" textLength="58.64" lengthAdjust="spacingAndGlyphs" stroke="#231f20" stroke-width="0.25">140 mg</text>
<text x="858.45" y="261.56" font-size="19.4" textLength="35.19" lengthAdjust="spacingAndGlyphs" stroke="#231f20" stroke-width="0.25">35%</text>
<text x="470.38" y="285.70" font-size="15.6" textLength="140.99" lengthAdjust="spacingAndGlyphs" stroke="#231f20" stroke-width="0.4"><tspan font-style="italic">(as magnesium oxide)</tspan></text>
<text x="471.30" y="310.44" font-size="19.4" textLength="33.59" lengthAdjust="spacingAndGlyphs" stroke="#231f20" stroke-width="0.25">Zinc</text>
<text x="702.85" y="310.44" font-size="19.4" textLength="63.53" lengthAdjust="spacingAndGlyphs" stroke="#231f20" stroke-width="0.25">5.25 mg</text>
<text x="858.45" y="310.44" font-size="19.4" textLength="35.19" lengthAdjust="spacingAndGlyphs" stroke="#231f20" stroke-width="0.25">35%</text>
<text x="470.40" y="334.58" font-size="15.6" textLength="98.18" lengthAdjust="spacingAndGlyphs" stroke="#231f20" stroke-width="0.4"><tspan font-style="italic">(as zinc sulfate)</tspan></text>
<text x="470.38" y="359.32" font-size="19.4" textLength="74.60" lengthAdjust="spacingAndGlyphs" stroke="#231f20" stroke-width="0.25">Selenium</text>
<text x="693.78" y="359.32" font-size="19.4" textLength="72.31" lengthAdjust="spacingAndGlyphs" stroke="#231f20" stroke-width="0.25">24.5 mcg</text>
<text x="858.45" y="359.32" font-size="19.4" textLength="35.19" lengthAdjust="spacingAndGlyphs" stroke="#231f20" stroke-width="0.25">35%</text>
<text x="470.38" y="383.46" font-size="15.6" textLength="208.79" lengthAdjust="spacingAndGlyphs" stroke="#231f20" stroke-width="0.4"><tspan font-style="italic">(as selenium amino acid chelate)</tspan></text>
<text x="470.39" y="408.20" font-size="19.4" textLength="58.16" lengthAdjust="spacingAndGlyphs" stroke="#231f20" stroke-width="0.25">Copper</text>
<text x="712.82" y="408.20" font-size="19.4" textLength="53.74" lengthAdjust="spacingAndGlyphs" stroke="#231f20" stroke-width="0.25">0.7 mg</text>
<text x="858.45" y="408.20" font-size="19.4" textLength="35.19" lengthAdjust="spacingAndGlyphs" stroke="#231f20" stroke-width="0.25">35%</text>
<text x="470.38" y="432.34" font-size="15.6" textLength="196.16" lengthAdjust="spacingAndGlyphs" stroke="#231f20" stroke-width="0.4"><tspan font-style="italic">(as copper amino acid chelate)</tspan></text>
<text x="470.39" y="457.08" font-size="19.4" textLength="92.64" lengthAdjust="spacingAndGlyphs" stroke="#231f20" stroke-width="0.25">Manganese</text>
<text x="712.82" y="457.08" font-size="19.4" textLength="53.74" lengthAdjust="spacingAndGlyphs" stroke="#231f20" stroke-width="0.25">0.7 mg</text>
<text x="858.45" y="457.08" font-size="19.4" textLength="35.19" lengthAdjust="spacingAndGlyphs" stroke="#231f20" stroke-width="0.25">35%</text>
<text x="470.38" y="481.22" font-size="15.6" textLength="226.98" lengthAdjust="spacingAndGlyphs" stroke="#231f20" stroke-width="0.4"><tspan font-style="italic">(as manganese amino acid chelate)</tspan></text>
<text x="470.35" y="505.96" font-size="19.4" textLength="85.02" lengthAdjust="spacingAndGlyphs" stroke="#231f20" stroke-width="0.25">Chromium</text>
<text x="709.19" y="505.96" font-size="19.4" textLength="57.65" lengthAdjust="spacingAndGlyphs" stroke="#231f20" stroke-width="0.25">42 mcg</text>
<text x="858.45" y="505.96" font-size="19.4" textLength="35.19" lengthAdjust="spacingAndGlyphs" stroke="#231f20" stroke-width="0.25">35%</text>
<text x="470.36" y="530.10" font-size="15.6" textLength="160.05" lengthAdjust="spacingAndGlyphs" stroke="#231f20" stroke-width="0.4"><tspan font-style="italic">(as chromium picolinate)</tspan></text>
<text x="471.12" y="566.60" font-size="19.4" textLength="413.62" lengthAdjust="spacingAndGlyphs" stroke="#231f20" stroke-width="0.25">Percent Daily Values are based on a 2,000 calorie diet.</text>
<text x="471.10" y="590.60" font-size="19.4" textLength="213.77" lengthAdjust="spacingAndGlyphs" stroke="#231f20" stroke-width="0.25">Daily Value not established.</text>
<text x="468.85" y="631.50" font-size="19.5" textLength="431.22" lengthAdjust="spacingAndGlyphs" fill="#ffffff" stroke="#ffffff" stroke-width="0.3"><tspan font-weight="bold">OTHER INGREDIENTS:</tspan> Protein blend (oat, pea and</text>
<text x="468.84" y="655.70" font-size="19.5" textLength="421.68" lengthAdjust="spacingAndGlyphs" fill="#ffffff" stroke="#ffffff" stroke-width="0.3">soy), agave (<tspan font-style="italic">agave tequilana</tspan>) fruit, corn and wheat</text>
<text x="468.81" y="679.90" font-size="19.5" textLength="431.64" lengthAdjust="spacingAndGlyphs" fill="#ffffff" stroke="#ffffff" stroke-width="0.3">resistant dextrin (fiber), medium chain triglycerides</text>
<text x="468.84" y="704.10" font-size="19.5" textLength="423.96" lengthAdjust="spacingAndGlyphs" fill="#ffffff" stroke="#ffffff" stroke-width="0.3">(MCT), natural vanilla flavor, xanthan gum, <tspan font-style="italic">Bacillus</tspan></text>
<text x="468.83" y="728.30" font-size="19.5" textLength="426.96" lengthAdjust="spacingAndGlyphs" fill="#ffffff" stroke="#ffffff" stroke-width="0.3"><tspan font-style="italic">coagulans</tspan>, stevia leaf extract, potato extract, monk</text>
<text x="468.83" y="752.50" font-size="19.5" textLength="303.72" lengthAdjust="spacingAndGlyphs" fill="#ffffff" stroke="#ffffff" stroke-width="0.3">(<tspan font-style="italic">momordica grovesnori</tspan>) fruit extract.</text>
<text x="471.50" y="825.70" font-size="18.8" textLength="438.77" lengthAdjust="spacingAndGlyphs" stroke="#231f20" stroke-width="0.25">*These statements have not been evaluated by the Food</text>
<text x="470.54" y="850.00" font-size="18.8" textLength="441.46" lengthAdjust="spacingAndGlyphs" stroke="#231f20" stroke-width="0.25">and Drug Administration. This product is not intended to</text>
<text x="470.59" y="874.30" font-size="18.8" textLength="343.84" lengthAdjust="spacingAndGlyphs" stroke="#231f20" stroke-width="0.25">diagnose, treat, cure, or prevent any disease.</text>
<text x="13.56" y="831.80" font-size="19.2" textLength="221.31" lengthAdjust="spacingAndGlyphs" fill="#ffffff" stroke="#ffffff" stroke-width="0.25">CONTAINS SOY AND WHEAT.</text>
<text x="13.58" y="857.10" font-size="19.2" textLength="400.90" lengthAdjust="spacingAndGlyphs" fill="#ffffff" stroke="#ffffff" stroke-width="0.25">NO ARTIFICIAL COLORS OR FLAVORS • NO LACTOSE</text>
<text x="13.50" y="886.90" font-size="19.2" textLength="417.47" lengthAdjust="spacingAndGlyphs" fill="#ffffff" stroke="#ffffff" stroke-width="0.25">Storage: Store in a cool, dry place. Keep tightly closed.</text>
</svg>
</body></html>
